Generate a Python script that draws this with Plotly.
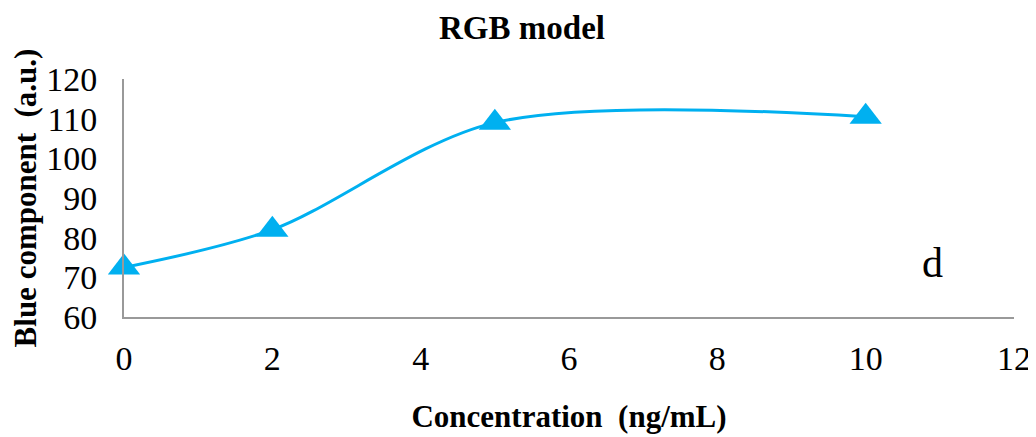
import plotly.graph_objects as go

# data
concentration = [0, 2, 5, 10]
blue_component = [72.5, 82, 109, 110.5]

x_ticks = [0, 2, 4, 6, 8, 10, 12]
y_ticks = [60, 70, 80, 90, 100, 110, 120]

serif = "Liberation Serif"
blue = "#00B0F0"

fig = go.Figure()

fig.add_trace(go.Scatter(
    x=concentration,
    y=blue_component,
    mode="lines+markers",
    line=dict(color=blue, width=3, shape="spline", smoothing=0.9),
    marker=dict(symbol="triangle-up", size=28, color=blue),
    cliponaxis=False,
    showlegend=False,
))

fig.add_annotation(
    x=10.9, y=73.5, text="d", showarrow=False,
    font=dict(family=serif, size=42, color="black"),
)

# the page has an 8px body margin, so the figure is sized to fit the window
fig.update_layout(
    width=1028,
    height=429,
    margin=dict(l=116, r=22, t=71, b=120),
    plot_bgcolor="white",
    paper_bgcolor="white",
    font=dict(family=serif, color="black"),
    title=dict(
        text="<b>RGB model</b>",
        x=0.5, xanchor="center",
        y=0.955, yanchor="middle",
        font=dict(family=serif, size=33, color="black"),
    ),
    xaxis=dict(
        range=[0, 12],
        tickvals=x_ticks,
        showgrid=False,
        zeroline=False,
        showline=True,
        linecolor="#999999",
        linewidth=2,
        ticks="",
        automargin=False,
        ticklabelstandoff=10,
        tickfont=dict(family=serif, size=34),
        title=dict(
            text="<b>Concentration  (ng/mL)</b>",
            font=dict(family=serif, size=31),
            standoff=30,
        ),
    ),
    yaxis=dict(
        range=[60, 120],
        tickvals=y_ticks,
        showgrid=False,
        zeroline=False,
        showline=True,
        linecolor="#999999",
        linewidth=2,
        ticks="",
        automargin=False,
        ticklabelstandoff=18,
        tickfont=dict(family=serif, size=34),
        title=dict(
            text="<b>Blue component  (a.u.)</b>",
            font=dict(family=serif, size=31),
            standoff=10,
        ),
    ),
)

fig.write_html("out.html")
